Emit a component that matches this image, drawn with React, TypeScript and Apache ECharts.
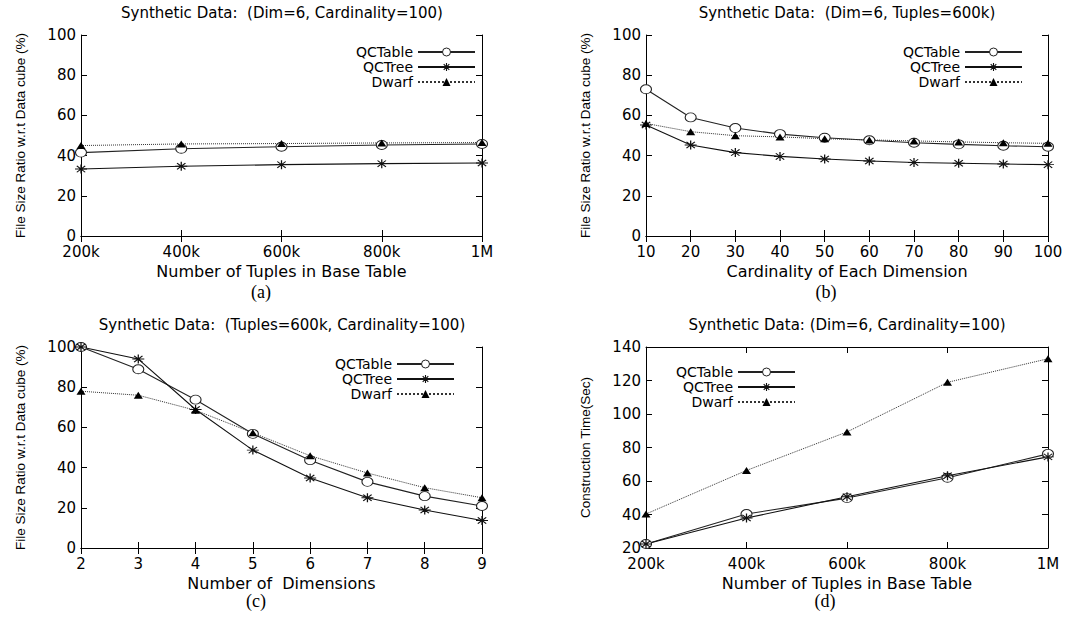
import React, { useEffect, useRef } from "react";
import * as echarts from "echarts";

const xTuples = ["200k", "400k", "600k", "800k", "1M"];
const xCard = ["10", "20", "30", "40", "50", "60", "70", "80", "90", "100"];
const xDims = ["2", "3", "4", "5", "6", "7", "8", "9"];

const aTable = [41.5, 43.4, 44.4, 45.3, 45.8];
const aTree = [33.3, 34.7, 35.5, 36.0, 36.3];
const aDwarf = [45.0, 45.8, 46.0, 46.3, 46.5];

const bTable = [73, 59, 53.7, 50.7, 48.9, 47.6, 46.4, 45.6, 44.9, 44.4];
const bTree = [55.2, 45.3, 41.5, 39.6, 38.3, 37.3, 36.6, 36.2, 35.8, 35.5];
const bDwarf = [56, 51.9, 49.9, 49.3, 48.4, 47.8, 47.3, 46.8, 46.4, 46.1];

const cTable = [100, 88.9, 73.8, 56.8, 43.7, 32.9, 25.8, 20.9];
const cTree = [100, 94, 68.9, 48.7, 34.8, 25, 18.9, 13.7];
const cDwarf = [78, 76, 68.5, 57.3, 45.9, 37.3, 30, 25];

const dTable = [22.4, 40.3, 49.8, 61.9, 76.2];
const dTree = [22.4, 37.9, 50.6, 63.1, 74.4];
const dDwarf = [40.3, 66.3, 89.3, 118.9, 133];

const FONT = "DejaVu Sans";
const ASTER = "path://M5 0L5 10M0 5L10 5M1.5 1.5L8.5 8.5M1.5 8.5L8.5 1.5";
const CIRCLE = "path://M5 0A5 5 0 1 1 5 10A5 5 0 1 1 5 0Z";

export default function App() {
  const ref = useRef<HTMLDivElement>(null);
  useEffect(() => {
    if (!ref.current) return;
    const chart = echarts.init(ref.current, null, { renderer: "svg" });

    const grids = [
      { left: 81, top: 35, width: 401, height: 201 },
      { left: 646, top: 35, width: 402, height: 201 },
      { left: 81, top: 347, width: 401, height: 201 },
      { left: 646, top: 347, width: 402, height: 201 },
    ];
    const cfg = [
      { x: xTuples, xName: "Number of Tuples in Base Table", yName: "File Size Ratio w.r.t Data cube (%)", min: 0, max: 100, data: [aTable, aTree, aDwarf], legend: { right: 608, top: 40 } },
      { x: xCard, xName: "Cardinality of Each Dimension", yName: "File Size Ratio w.r.t Data cube (%)", min: 0, max: 100, data: [bTable, bTree, bDwarf], legend: { right: 61, top: 40 } },
      { x: xDims, xName: "Number of  Dimensions", yName: "File Size Ratio w.r.t Data cube (%)", min: 0, max: 100, data: [cTable, cTree, cDwarf], legend: { right: 629, top: 352 } },
      { x: xTuples, xName: "Number of Tuples in Base Table", yName: "Construction Time(Sec)", min: 20, max: 140, data: [dTable, dTree, dDwarf], legend: { right: 288, top: 360 } },
    ];

    const axisLine = { show: true, lineStyle: { color: "#000", width: 1 } };
    const tick = { show: true, inside: true, length: 6, lineStyle: { color: "#000" } };
    const xAxis: any[] = [];
    const yAxis: any[] = [];
    const series: any[] = [];
    const legend: any[] = [];

    const circleStyle = { color: "#fff", borderColor: "#222", borderWidth: 1 };
    const asterStyle = { color: "#111", borderColor: "#111", borderWidth: 1.1 };

    cfg.forEach((c, g) => {
      const base = {
        type: "category",
        data: c.x,
        boundaryGap: false,
        gridIndex: g,
        axisLine,
        axisTick: { ...tick, interval: 0 },
        splitLine: { show: false },
      };
      xAxis.push({
        ...base,
        position: "bottom",
        axisLabel: { interval: 0, color: "#000", fontFamily: FONT, fontSize: 15, lineHeight: 12, margin: 10 },
        name: c.xName,
        nameLocation: "middle",
        nameGap: 27,
        nameTextStyle: { color: "#000", fontFamily: FONT, fontSize: 16, lineHeight: 16 },
      });
      xAxis.push({ ...base, position: "top", axisLabel: { show: false } });
      const ybase = {
        type: "value",
        min: c.min,
        max: c.max,
        interval: 20,
        gridIndex: g,
        axisLine,
        axisTick: tick,
        splitLine: { show: false },
      };
      yAxis.push({
        ...ybase,
        position: "left",
        axisLabel: { color: "#000", fontFamily: FONT, fontSize: 15, lineHeight: 11, margin: 5 },
        name: c.yName,
        nameLocation: "middle",
        nameGap: 54,
        nameTextStyle: { color: "#000", fontFamily: "Liberation Sans", fontSize: 13.5 },
      });
      yAxis.push({ ...ybase, position: "right", axisLabel: { show: false } });

      const common = { type: "line", xAxisIndex: 2 * g, yAxisIndex: 2 * g, z: 3 };
      series.push({
        ...common,
        name: "QCTable",
        data: c.data[0],
        symbol: CIRCLE,
        symbolSize: [11, 9],
        lineStyle: { color: "#222", width: 1.1 },
        itemStyle: circleStyle,
      });
      series.push({
        ...common,
        name: "QCTree",
        data: c.data[1],
        symbol: ASTER,
        symbolSize: [12, 9],
        lineStyle: { color: "#111", width: 1.1 },
        itemStyle: asterStyle,
      });
      series.push({
        ...common,
        name: "Dwarf",
        data: c.data[2],
        symbol: "triangle",
        symbolSize: [9, 7],
        lineStyle: { color: "#333", width: 1, type: "dotted" },
        itemStyle: { color: "#000" },
      });
      legend.push({
        orient: "vertical",
        align: "right",
        right: c.legend.right,
        top: c.legend.top,
        itemWidth: 57,
        itemHeight: 10,
        itemGap: 1,
        selectedMode: false,
        textStyle: { fontFamily: FONT, fontSize: 14, color: "#000", lineHeight: 14 },
        data: [
          { name: "QCTable", itemStyle: circleStyle },
          { name: "QCTree", itemStyle: asterStyle },
          { name: "Dwarf" },
        ],
      });
    });

    const txt = (x: number, y: number, text: string, font: string, size: number) => ({
      type: "text",
      x,
      y,
      style: { text, fill: "#000", font: `${size}px "${font}"`, textAlign: "center", textVerticalAlign: "middle" },
    });

    chart.setOption({
      animation: false,
      backgroundColor: "#fff",
      grid: grids,
      xAxis,
      yAxis,
      series,
      legend,
      graphic: [
        txt(282, 13, "Synthetic Data:  (Dim=6, Cardinality=100)", FONT, 15),
        txt(847, 13, "Synthetic Data:  (Dim=6, Tuples=600k)", FONT, 15),
        txt(282, 325, "Synthetic Data:  (Tuples=600k, Cardinality=100)", FONT, 15),
        txt(847, 325, "Synthetic Data: (Dim=6, Cardinality=100)", FONT, 15),
        txt(261, 292, "(a)", "Liberation Serif", 18),
        txt(826, 292, "(b)", "Liberation Serif", 18),
        txt(256, 601, "(c)", "Liberation Serif", 18),
        txt(825, 601, "(d)", "Liberation Serif", 18),
      ],
    });
    return () => chart.dispose();
  }, []);
  return <div ref={ref} style={{ position: "absolute", left: 0, top: 0, width: 1089, height: 618 }} />;
}
